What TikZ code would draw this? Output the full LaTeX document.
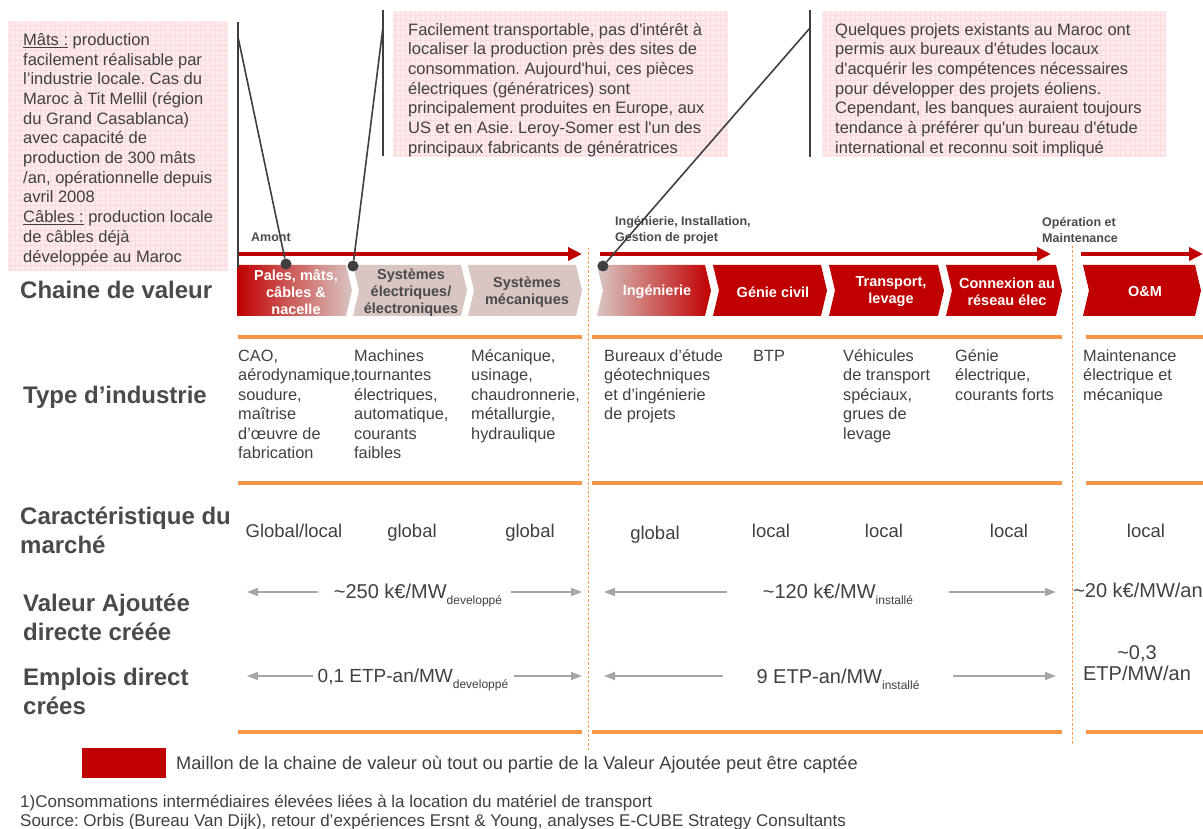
\documentclass[tikz,border=0pt]{standalone}
\usepackage{fontspec}
\setmainfont{Liberation Sans}
\usetikzlibrary{arrows.meta}
\frenchspacing
\definecolor{txt}{HTML}{404040}
\definecolor{lbl}{HTML}{4A4A4A}
\definecolor{dred}{HTML}{C00000}
\definecolor{chpink}{HTML}{D9C5C1}
\definecolor{orng}{HTML}{F79646}
\definecolor{boxpink}{HTML}{FDEBEC}
\definecolor{gridpink}{HTML}{F9DADD}
\definecolor{cline}{HTML}{3F3F3F}
\definecolor{garrow}{HTML}{A6A6A6}
\newcommand\fl{\rule{0pt}{0.95em}}
\newcommand\q{\textquotesingle}
\newcommand\sbs[1]{\raisebox{-0.3em}{\fontsize{12}{12}\selectfont #1}}
\newcommand\chev[4]{\path[#4] (#1,265) -- ({#2-6},265) -- (#2,290.5) -- ({#2-6},316) -- (#1,316) -- ({#1+#3},290.5) -- cycle;}
\begin{document}
\begin{tikzpicture}[x=1pt,y=-1pt,
  calltext/.style={font=\fontsize{16.5}{19.7}\selectfont, text=txt, align=left, inner sep=0pt, anchor=north west},
  typetext/.style={font=\fontsize{16.3}{19.5}\selectfont, text=txt, align=left, inner sep=0pt, anchor=north west},
  rowlabel/.style={font=\bfseries\fontsize{24}{29}\selectfont, text=lbl, align=left, inner sep=0pt},
  stagelabel/.style={font=\bfseries\fontsize{12.5}{16}\selectfont, text=lbl, align=left, inner sep=0pt},
  chevtext/.style={font=\bfseries\fontsize{14.5}{17}\selectfont, align=center, inner sep=0pt},
  mkt/.style={font=\fontsize{18.5}{22}\selectfont, text=txt, inner sep=0pt},
  valtext/.style={font=\fontsize{20}{21}\selectfont, text=txt, inner sep=0pt, align=center},
  redarrow/.style={draw=dred, line width=4.5pt, -{Triangle[length=14pt,width=13pt]}},
  grayarrow/.style={draw=garrow, line width=1.8pt, -{Triangle[length=11pt,width=8pt]}},
  orangerule/.style={draw=orng, line width=3.5pt},
  sepline/.style={draw=orng, line width=0.7pt, dash pattern=on 2.5pt off 2pt},
  callline/.style={draw=cline, line width=1.6pt},
  dot/.style={circle, fill=cline, inner sep=0pt, minimum size=11pt},
  pinkbox/.style={fill=boxpink},
  foot/.style={font=\fontsize{17}{19}\selectfont, text=txt, inner sep=0pt, anchor=base west}
]
\useasboundingbox (0,0) rectangle (1203,829);

% ---------- callout boxes ----------
\fill[pinkbox] (8,21) rectangle (228,270);
\draw[gridpink, line width=0.4pt, step=5pt] (8,270) grid (228,21);
\fill[pinkbox] (393,11) rectangle (728,157);
\draw[gridpink, line width=0.4pt, step=5pt] (393,157) grid (728,11);
\fill[pinkbox] (822,11) rectangle (1166,157);
\draw[gridpink, line width=0.4pt, step=5pt] (822,157) grid (1166,11);

\node[calltext] (box1) at (23,29.5) {\fl\underline{Mâts :} production\\facilement réalisable par\\l’industrie locale. Cas du\\Maroc à Tit Mellil (région\\du Grand Casablanca)\\avec capacité de\\production de 300 mâts\\/an, opérationnelle depuis\\avril 2008\\\underline{Câbles :} production locale\\de câbles déjà\\développée au Maroc};
\node[calltext] (box2) at (408,19.2) {\fl Facilement transportable, pas d\q intérêt à\\localiser la production près des sites de\\consommation. Aujourd\q hui, ces pièces\\électriques (génératrices) sont\\principalement produites en Europe, aux\\US et en Asie. Leroy-Somer est l\q un des\\principaux fabricants de génératrices};
\node[calltext] (box3) at (835,19.2) {\fl Quelques projets existants au Maroc ont\\permis aux bureaux d\q études locaux\\d\q acquérir les compétences nécessaires\\pour développer des projets éoliens.\\Cependant, les banques auraient toujours\\tendance à préférer qu\q un bureau d\q étude\\international et reconnu soit impliqué};

% ---------- separators ----------
\coordinate (s1t) at (588,248); \coordinate (s1b) at (588,750);
\coordinate (s2t) at (1072,246); \coordinate (s2b) at (1072,745);
\draw[sepline] (s1t) -- (s1b);
\draw[sepline] (s2t) -- (s2b);

% ---------- stage arrows ----------
\coordinate (a1s) at (238,254); \coordinate (a1e) at (582,254);
\coordinate (a2s) at (600,254); \coordinate (a2e) at (1051,254);
\coordinate (a3s) at (1081,254); \coordinate (a3e) at (1203,254);
\draw[redarrow] (a1s) -- (a1e);
\draw[redarrow] (a2s) -- (a2e);
\draw[redarrow] (a3s) -- (a3e);
\node[stagelabel, anchor=base west] (amont) at (251,241.5) {Amont};
\node[stagelabel, anchor=north west] (ing) at (615,213.6) {\fl Ingénierie, Installation,\\Gestion de projet};
\node[stagelabel, anchor=north west] (om) at (1042,214.6) {\fl Opération et\\Maintenance};

% ---------- chevrons ----------
\chev{237}{352}{0}{left color=dred, right color=chpink}
\chev{353}{467}{6}{fill=chpink}
\chev{468}{582}{6}{fill=chpink}
\chev{597}{711}{6}{left color=chpink, right color=dred}
\chev{713}{827}{6}{fill=dred}
\chev{829}{944}{6}{fill=dred}
\chev{946}{1062}{6}{fill=dred}
\chev{1083}{1201}{6}{fill=dred}
\node[chevtext, text=white] (c1) at (296,292) {Pales, mâts,\\câbles \&\\nacelle};
\node[chevtext, text=lbl] (c2) at (411,293) {Systèmes\\électriques/\\électroniques};
\node[chevtext, text=lbl] (c3) at (527,292) {Systèmes\\mécaniques};
\node[chevtext, text=white] (c4) at (657,292) {Ingénierie};
\node[chevtext, text=white] (c5) at (773,292) {Génie civil};
\node[chevtext, text=white] (c6) at (891,292) {Transport,\\levage};
\node[chevtext, text=white] (c7) at (1007,292) {Connexion au\\réseau élec};
\node[chevtext, text=white] (c8) at (1145,292) {O\&M};

% ---------- callout connectors ----------
\node[dot] (d1) at (286,264) {};
\node[dot] (d2) at (353,266) {};
\node[dot] (d3) at (603,266) {};
\coordinate (v1t) at (238,22); \coordinate (v1b) at (238,268); \coordinate (k1) at (238,37);
\coordinate (v2t) at (383,10); \coordinate (v2b) at (383,156); \coordinate (k2) at (383,27);
\coordinate (v3t) at (810,10); \coordinate (v3b) at (810,157); \coordinate (k3) at (810,28);
\draw[callline] (v1t) -- (v1b);
\draw[callline] (k1) -- (d1);
\draw[callline] (v2t) -- (v2b);
\draw[callline] (k2) -- (d2);
\draw[callline] (v3t) -- (v3b);
\draw[callline] (k3) -- (d3);

% ---------- orange rules ----------
\foreach \yy in {337,483,732}{
  \draw[orangerule] (238,\yy) -- (582,\yy);
  \draw[orangerule] (592,\yy) -- (1062,\yy);
  \draw[orangerule] (1086,\yy) -- (1203,\yy);
}

% ---------- row labels ----------
\node[rowlabel, anchor=base west] (lab1) at (20,298.5) {Chaine de valeur};
\node[rowlabel, anchor=base west] (lab2) at (23,403.5) {Type d’industrie};
\node[rowlabel, anchor=north west] (lab3) at (20,501.8) {\fl Caractéristique du\\marché};
\node[rowlabel, anchor=north west] (lab4) at (23,588.8) {\fl Valeur Ajoutée\\directe créée};
\node[rowlabel, anchor=north west] (lab5) at (23,662.8) {\fl Emplois direct\\crées};

% ---------- type d'industrie ----------
\node[typetext] (t1) at (238,345.4) {\fl CAO,\\aérodynamique,\\soudure,\\maîtrise\\d’œuvre de\\fabrication};
\node[typetext] (t2) at (354,345.4) {\fl Machines\\tournantes\\électriques,\\automatique,\\courants\\faibles};
\node[typetext] (t3) at (471,345.4) {\fl Mécanique,\\usinage,\\chaudronnerie,\\métallurgie,\\hydraulique};
\node[typetext] (t4) at (604,345.4) {\fl Bureaux d’étude\\géotechniques\\et d’ingénierie\\de projets};
\node[typetext] (t5) at (753,345.4) {\fl BTP};
\node[typetext] (t6) at (843,345.4) {\fl Véhicules\\de transport\\spéciaux,\\grues de\\levage};
\node[typetext] (t7) at (955,345.4) {\fl Génie\\électrique,\\courants forts};
\node[typetext] (t8) at (1083,345.4) {\fl Maintenance\\électrique et\\mécanique};

% ---------- marché ----------
\node[mkt, anchor=base] (m1) at (294,537.6) {Global/local};
\node[mkt, anchor=base] (m2) at (412,537.6) {global};
\node[mkt, anchor=base] (m3) at (530,537.6) {global};
\node[mkt, anchor=base] (m4) at (655,539.6) {global};
\node[mkt, anchor=base] (m5) at (771,537.6) {local};
\node[mkt, anchor=base] (m6) at (884,537.6) {local};
\node[mkt, anchor=base] (m7) at (1009,537.6) {local};
\node[mkt, anchor=base] (m8) at (1146,537.6) {local};

% ---------- valeur ajoutee ----------
\node[valtext, anchor=base] (v1) at (418,598) {\textasciitilde250 k€/MW\sbs{developpé}};
\node[valtext, anchor=base] (v2) at (838,598) {\textasciitilde120 k€/MW\sbs{installé}};
\node[valtext, anchor=base] (v3) at (1138,597) {\textasciitilde20 k€/MW/an};
\coordinate (va1) at (318,592); \coordinate (va1e) at (247,592);
\coordinate (va2) at (511,592); \coordinate (va2e) at (582,592);
\coordinate (va3) at (727,592); \coordinate (va3e) at (604,592);
\coordinate (va4) at (949,592); \coordinate (va4e) at (1056,592);
\draw[grayarrow] (va1) -- (va1e);
\draw[grayarrow] (va2) -- (va2e);
\draw[grayarrow] (va3) -- (va3e);
\draw[grayarrow] (va4) -- (va4e);

% ---------- emplois ----------
\node[valtext, font=\fontsize{19}{21}\selectfont, anchor=base] (e1) at (413,682.5) {0,1 ETP-an/MW\sbs{developpé}};
\node[valtext, anchor=base] (e2) at (838,683) {9 ETP-an/MW\sbs{installé}};
\node[valtext, anchor=north] (e3) at (1137,640.2) {\fl\textasciitilde0,3\\ETP/MW/an};
\coordinate (ea1) at (313,676); \coordinate (ea1e) at (247,676);
\coordinate (ea2) at (514,676); \coordinate (ea2e) at (582,676);
\coordinate (ea3) at (723,676); \coordinate (ea3e) at (604,676);
\coordinate (ea4) at (953,676); \coordinate (ea4e) at (1056,676);
\draw[grayarrow] (ea1) -- (ea1e);
\draw[grayarrow] (ea2) -- (ea2e);
\draw[grayarrow] (ea3) -- (ea3e);
\draw[grayarrow] (ea4) -- (ea4e);

% ---------- legend & footnotes ----------
\node[fill=dred, minimum width=84pt, minimum height=30pt, inner sep=0pt, anchor=north west] (leg) at (82,748) {};
\node[font=\fontsize{18.2}{20}\selectfont, text=txt, inner sep=0pt, anchor=base west] (legt) at (176,769.4) {Maillon de la chaine de valeur où tout ou partie de la Valeur Ajoutée peut être captée};
\node[foot] (fn1) at (20,807) {1)Consommations intermédiaires élevées liées à la location du matériel de transport};
\node[foot] (fn2) at (20,826) {Source: Orbis (Bureau Van Dijk), retour d’expériences Ersnt \& Young, analyses E-CUBE Strategy Consultants};
\end{tikzpicture}
\end{document}
